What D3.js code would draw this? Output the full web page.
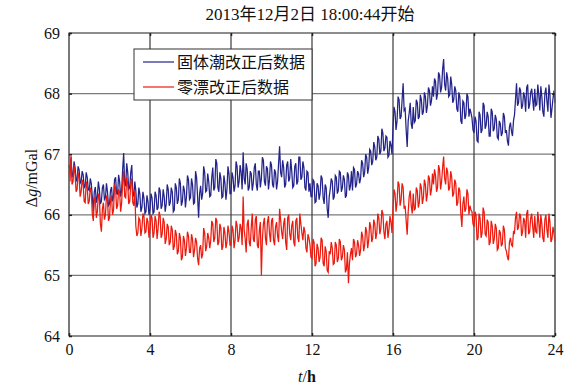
<!DOCTYPE html>
<html>
<head>
<meta charset="utf-8">
<script src="https://cdn.jsdelivr.net/npm/d3@7/dist/d3.min.js"></script>
<style>
  body { margin: 0; background: #fff; }
  text { font-family: "Liberation Serif", "Noto Sans CJK SC", serif; }
</style>
</head>
<body>
<div id="chart"></div>
<script>
// 固体潮改正后数据 (mGal), one sample every 0.05 h, 20 per row = 1 hour
var tideCorrected = [
  66.82, 66.70, 66.95, 66.62, 66.68, 66.88, 66.78, 66.55, 66.60, 66.80, 66.74, 66.52, 66.55, 66.72, 66.66, 66.45, 66.48, 66.70, 66.62, 66.42,
  66.40, 66.60, 66.52, 66.30, 66.05, 66.38, 66.46, 66.20, 66.30, 66.55, 66.42, 66.18, 66.22, 66.45, 66.50, 66.25, 66.28, 66.52, 66.38, 66.15,
  66.18, 66.40, 66.46, 66.22, 66.30, 66.58, 66.62, 66.35, 66.34, 66.66, 66.55, 66.30, 66.40, 66.75, 67.02, 66.50, 66.48, 66.85, 66.70, 66.42,
  66.45, 66.70, 66.82, 66.35, 66.30, 66.55, 66.40, 66.12, 66.18, 66.45, 66.34, 66.05, 66.12, 66.38, 66.28, 66.02, 66.05, 66.32, 66.22, 66.00,
  66.10, 66.35, 66.28, 66.02, 66.05, 66.38, 66.32, 66.08, 66.12, 66.45, 66.40, 66.10, 66.15, 66.42, 66.30, 66.05, 66.18, 66.50, 66.42, 66.15,
  66.20, 66.45, 66.38, 66.05, 66.08, 66.52, 66.45, 66.18, 66.25, 66.60, 66.52, 66.15, 66.22, 66.48, 66.40, 66.12, 66.30, 66.65, 66.58, 66.25,
  66.28, 66.60, 66.50, 66.18, 66.20, 66.72, 66.62, 66.30, 65.95, 66.35, 66.48, 66.25, 66.35, 66.80, 66.70, 66.38, 66.40, 66.68, 66.55, 66.30,
  66.32, 66.62, 66.78, 66.40, 66.45, 66.92, 66.85, 66.45, 66.38, 66.70, 66.60, 66.28, 66.30, 66.65, 66.52, 66.25, 66.42, 66.80, 66.68, 66.35,
  66.35, 66.70, 66.62, 66.38, 66.48, 66.88, 66.80, 66.45, 66.55, 66.82, 66.70, 66.42, 67.03, 66.60, 66.50, 66.85, 66.75, 66.40, 66.45, 66.72,
  66.68, 66.40, 66.52, 66.78, 66.85, 66.50, 66.40, 66.72, 66.72, 66.45, 66.60, 66.95, 66.90, 66.55, 66.48, 66.80, 66.76, 66.42, 66.58, 66.88,
  66.82, 66.50, 66.45, 66.75, 66.70, 66.42, 66.55, 66.85, 67.13, 66.70, 66.62, 66.90, 66.78, 66.45, 66.50, 66.82, 66.88, 66.55, 66.60, 66.92,
  66.72, 66.45, 66.48, 66.80, 66.85, 66.50, 66.55, 66.95, 66.95, 66.58, 66.62, 66.88, 66.78, 66.45, 66.40, 66.72, 66.70, 66.38, 66.52, 66.30,
  66.30, 66.58, 66.55, 66.20, 66.22, 66.52, 66.48, 66.25, 66.35, 66.65, 66.60, 66.28, 66.18, 66.50, 66.45, 66.10, 65.95, 66.30, 66.42, 66.60,
  66.55, 66.25, 66.30, 66.65, 66.62, 66.35, 66.40, 66.72, 66.70, 66.38, 66.45, 66.65, 66.58, 66.28, 66.32, 66.70, 66.65, 66.40, 66.48, 66.72,
  66.40, 66.78, 66.75, 66.45, 66.50, 66.72, 66.68, 66.52, 66.60, 66.90, 66.85, 66.62, 66.70, 67.00, 66.95, 66.68, 66.78, 67.08, 67.05, 66.82,
  66.88, 67.20, 67.12, 66.90, 66.95, 67.30, 67.25, 67.00, 67.05, 67.42, 67.35, 67.05, 67.10, 67.30, 67.28, 66.95, 66.98, 67.22, 67.15, 67.00,
  67.45, 67.78, 67.70, 67.40, 67.55, 67.95, 67.90, 67.58, 67.62, 67.90, 68.17, 67.72, 67.75, 67.40, 67.12, 67.55, 67.68, 67.85, 67.50, 67.42,
  67.78, 67.52, 67.55, 67.90, 67.85, 67.58, 67.62, 67.98, 67.90, 67.65, 67.70, 68.02, 67.95, 67.68, 67.80, 68.10, 68.05, 67.80, 67.88, 68.12,
  67.95, 68.25, 68.20, 67.90, 68.00, 68.35, 68.30, 68.02, 68.10, 68.40, 68.57, 68.15, 68.05, 68.35, 68.25, 67.95, 67.98, 68.28, 68.15, 67.85,
  67.90, 68.12, 68.05, 67.75, 67.70, 68.02, 67.95, 67.55, 67.50, 67.88, 67.85, 67.58, 67.65, 68.00, 67.95, 67.62, 67.75, 67.68, 67.60, 67.40,
  67.35, 67.62, 67.55, 67.22, 67.20, 67.70, 67.65, 67.35, 67.40, 67.85, 67.80, 67.42, 67.48, 67.70, 67.62, 67.30, 67.30, 67.75, 67.70, 67.38,
  67.42, 67.65, 67.58, 67.28, 67.25, 67.55, 67.50, 67.30, 67.35, 67.68, 67.62, 67.35, 67.40, 67.22, 67.14, 67.45, 67.52, 67.38, 67.30, 67.55,
  67.65, 67.90, 68.17, 67.80, 67.85, 68.10, 68.05, 67.75, 67.80, 68.02, 67.95, 67.70, 68.10, 68.15, 67.75, 67.82, 68.02, 68.08, 67.90, 67.72,
  68.08, 67.80, 67.82, 68.15, 67.98, 67.72, 68.12, 67.95, 67.70, 67.62, 68.00, 68.10, 67.88, 67.70, 68.15, 67.98, 67.60, 67.75, 67.92, 68.05,
  67.85
];

// 零漂改正后数据 (mGal)
var driftCorrected = [
  66.72, 66.55, 66.98, 66.50, 66.55, 66.82, 66.68, 66.38, 66.42, 66.70, 66.62, 66.30, 66.38, 66.58, 66.50, 66.22, 66.20, 66.55, 66.45, 66.18,
  66.22, 66.45, 66.38, 66.02, 65.90, 66.25, 66.30, 65.95, 66.05, 66.35, 66.28, 65.85, 65.72, 66.10, 66.20, 65.92, 66.00, 66.32, 66.25, 65.90,
  65.95, 66.25, 66.32, 66.00, 66.08, 66.50, 66.45, 66.10, 66.15, 66.42, 66.38, 66.05, 66.20, 66.55, 66.72, 66.30, 66.28, 66.62, 66.50, 66.18,
  66.22, 66.52, 66.60, 66.20, 66.15, 66.40, 65.82, 65.65, 65.70, 65.95, 65.92, 65.65, 65.78, 66.02, 65.98, 65.70, 65.72, 65.95, 65.88, 65.62,
  65.75, 66.00, 65.95, 65.62, 65.70, 65.98, 65.90, 65.60, 65.78, 66.05, 65.98, 65.62, 65.68, 65.95, 65.88, 65.52, 65.60, 65.85, 65.80, 65.50,
  65.55, 65.82, 65.75, 65.42, 65.48, 65.75, 65.68, 65.35, 65.40, 65.70, 65.62, 65.25, 65.30, 65.65, 65.58, 65.32, 65.45, 65.72, 65.65, 65.38,
  65.38, 65.68, 65.60, 65.30, 65.42, 65.62, 65.55, 65.28, 65.17, 65.45, 65.50, 65.28, 65.35, 65.78, 65.70, 65.40, 65.48, 65.70, 65.62, 65.45,
  65.58, 65.90, 65.85, 65.55, 65.62, 65.95, 65.90, 65.50, 65.55, 65.85, 65.78, 65.42, 65.48, 65.80, 65.70, 65.45, 65.55, 65.82, 65.72, 65.50,
  65.50, 65.82, 65.75, 65.45, 65.58, 65.90, 65.82, 65.55, 65.62, 65.85, 65.78, 65.50, 66.30, 65.75, 65.60, 65.38, 65.85, 65.92, 65.55, 65.48,
  65.80, 66.02, 65.60, 65.55, 65.92, 65.98, 65.50, 65.45, 65.75, 65.88, 65.00, 65.60, 65.85, 65.95, 65.62, 65.50, 65.88, 65.98, 65.70, 65.55,
  65.90, 65.95, 65.58, 65.50, 65.80, 65.88, 65.65, 65.55, 66.10, 65.92, 65.72, 65.60, 65.85, 65.95, 65.55, 65.42, 65.95, 66.00, 65.68, 65.58,
  65.82, 65.90, 65.55, 65.48, 65.90, 65.95, 65.62, 65.55, 66.02, 65.85, 65.70, 65.58, 65.80, 65.72, 65.45, 65.38, 65.68, 65.62, 65.50, 65.30,
  65.28, 65.60, 65.55, 65.15, 65.20, 65.52, 65.45, 65.22, 65.30, 65.62, 65.58, 65.20, 65.15, 65.48, 65.40, 65.08, 65.05, 65.40, 65.35, 65.55,
  65.45, 65.18, 65.20, 65.55, 65.50, 65.22, 65.28, 65.60, 65.55, 65.25, 65.30, 65.50, 65.42, 65.05, 65.10, 65.38, 64.87, 65.20, 65.35, 65.45,
  65.25, 65.60, 65.55, 65.30, 65.35, 65.58, 65.50, 65.32, 65.42, 65.72, 65.65, 65.40, 65.50, 65.80, 65.72, 65.45, 65.58, 65.88, 65.80, 65.55,
  65.62, 65.92, 65.85, 65.60, 65.70, 66.02, 65.95, 65.68, 65.78, 66.08, 66.02, 65.72, 65.60, 65.85, 65.90, 65.62, 65.75, 65.98, 65.88, 65.70,
  66.10, 66.42, 66.35, 66.05, 66.20, 66.55, 66.50, 66.15, 66.25, 66.52, 66.45, 66.10, 66.15, 65.90, 65.67, 66.05, 66.30, 66.40, 66.15, 66.02,
  66.35, 66.08, 66.10, 66.45, 66.40, 66.12, 66.20, 66.52, 66.45, 66.18, 66.28, 66.58, 66.50, 66.22, 66.35, 66.65, 66.60, 66.32, 66.42, 66.68,
  66.50, 66.75, 66.65, 66.38, 66.45, 66.82, 66.75, 66.42, 66.55, 66.78, 66.96, 66.60, 66.50, 66.78, 66.70, 66.40, 66.45, 66.72, 66.62, 66.30,
  66.35, 66.58, 66.52, 66.15, 66.20, 66.45, 66.40, 66.02, 65.80, 66.18, 66.30, 66.05, 66.10, 66.42, 66.35, 66.00, 66.15, 66.08, 66.05, 65.85,
  65.80, 66.05, 66.00, 65.58, 65.62, 66.02, 65.95, 65.62, 65.70, 66.12, 66.05, 65.68, 65.65, 65.92, 65.88, 65.50, 65.55, 65.90, 65.82, 65.52,
  65.60, 65.85, 65.78, 65.42, 65.45, 65.75, 65.70, 65.48, 65.52, 65.82, 65.75, 65.45, 65.40, 65.30, 65.25, 65.55, 65.62, 65.50, 65.48, 65.72,
  65.70, 65.95, 66.05, 65.75, 65.80, 66.02, 65.98, 65.65, 65.72, 65.95, 65.90, 65.62, 66.02, 66.08, 65.68, 65.72, 65.95, 66.02, 65.80, 65.62,
  65.98, 65.72, 65.70, 66.05, 65.88, 65.62, 66.00, 65.85, 65.62, 65.55, 65.92, 66.00, 65.75, 65.62, 66.02, 65.88, 65.55, 65.60, 65.80, 65.70,
  65.55
];

var sampleStep = 0.05; // h
var xTicks = [0, 4, 8, 12, 16, 20, 24];
var yTicks = [64, 65, 66, 67, 68, 69];
var seriesNames = ["固体潮改正后数据", "零漂改正后数据"];
var seriesColors = ["#23238a", "#ec1a0e"];

var width = 585, height = 390;
var margin = { top: 33, right: 30, bottom: 54, left: 69 };
var w = width - margin.left - margin.right;
var h = height - margin.top - margin.bottom;

var svg = d3.select("#chart").append("svg")
  .attr("width", width)
  .attr("height", height);

var g = svg.append("g")
  .attr("transform", "translate(" + margin.left + "," + margin.top + ")");

var x = d3.scaleLinear().domain([0, 24]).range([0, w]);
var y = d3.scaleLinear().domain([64, 69]).range([h, 0]);

// grid
g.selectAll(".hgrid").data(yTicks).enter().append("line")
  .attr("x1", 0).attr("x2", w)
  .attr("y1", function (d) { return y(d); })
  .attr("y2", function (d) { return y(d); })
  .attr("stroke", "#7a7a7a").attr("stroke-width", 1.2);

g.selectAll(".vgrid").data(xTicks).enter().append("line")
  .attr("y1", 0).attr("y2", h)
  .attr("x1", function (d) { return x(d); })
  .attr("x2", function (d) { return x(d); })
  .attr("stroke", "#3a3a3a").attr("stroke-width", 1.2);

// data lines
var line = d3.line()
  .x(function (d, i) { return x(i * sampleStep); })
  .y(function (d) { return y(d); });

[tideCorrected, driftCorrected].forEach(function (vals, i) {
  g.append("path")
    .datum(vals)
    .attr("fill", "none")
    .attr("stroke", seriesColors[i])
    .attr("stroke-width", 1.25)
    .attr("d", line);
});

// frame
g.append("rect")
  .attr("width", w).attr("height", h)
  .attr("fill", "none")
  .attr("stroke", "#6e6e6e").attr("stroke-width", 1.2);

// axes (ticks inward, MATLAB style)
var axL = g.append("g").call(d3.axisLeft(y).tickValues(yTicks).tickSize(-3).tickPadding(9).tickFormat(d3.format("d")));
var axB = g.append("g").attr("transform", "translate(0," + h + ")")
  .call(d3.axisBottom(x).tickValues(xTicks).tickSize(-3).tickPadding(8).tickFormat(d3.format("d")));
var axT = g.append("g").call(d3.axisTop(x).tickValues(xTicks).tickSize(-3).tickFormat(""));
var axR = g.append("g").attr("transform", "translate(" + w + ",0)")
  .call(d3.axisRight(y).tickValues(yTicks).tickSize(-3).tickFormat(""));

[axL, axB, axT, axR].forEach(function (ax) {
  ax.select(".domain").remove();
  ax.selectAll(".tick line").attr("stroke", "#222").attr("stroke-width", 1.5);
  ax.selectAll("text").attr("font-size", 16).attr("fill", "#111")
    .attr("font-family", "Liberation Serif, serif");
});

// legend
var lg = g.append("g").attr("transform", "translate(" + (134 - margin.left) + "," + (49 - margin.top) + ")");
lg.append("rect").attr("width", 178).attr("height", 51)
  .attr("fill", "#fff").attr("stroke", "#333").attr("stroke-width", 1);
seriesNames.forEach(function (name, i) {
  var yy = 13 + i * 25;
  lg.append("line").attr("x1", 9).attr("x2", 40).attr("y1", yy).attr("y2", yy)
    .attr("stroke", seriesColors[i]).attr("stroke-width", 1.2);
  lg.append("text").attr("x", 43).attr("y", yy).attr("dy", "0.35em")
    .attr("font-size", 16).attr("fill", "#111")
    .attr("font-family", "Noto Sans CJK SC, sans-serif")
    .text(name);
});

// title
svg.append("text")
  .attr("x", 310).attr("y", 20)
  .attr("text-anchor", "middle")
  .attr("font-size", 17).attr("fill", "#111")
  .text("2013年12月2日 18:00:44开始");

// axis labels
var yl = svg.append("text")
  .attr("transform", "translate(37,178) rotate(-90)")
  .attr("text-anchor", "middle")
  .attr("font-size", 16).attr("fill", "#111");
yl.append("tspan").text("Δ");
yl.append("tspan").attr("font-style", "italic").text("g");
yl.append("tspan").text("/mGal");

var xl = svg.append("text")
  .attr("x", 307).attr("y", 382)
  .attr("text-anchor", "middle")
  .attr("font-size", 16).attr("fill", "#111");
xl.append("tspan").attr("font-style", "italic").text("t");
xl.append("tspan").text("/");
xl.append("tspan").attr("font-weight", "bold").text("h");
</script>
</body>
</html>
